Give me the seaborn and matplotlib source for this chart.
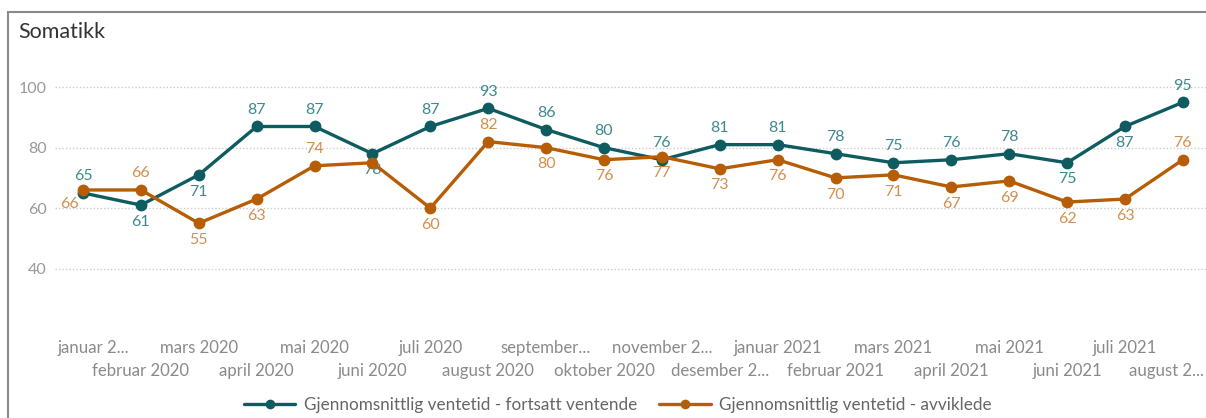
import matplotlib
matplotlib.use("Agg")
import matplotlib.pyplot as plt
import matplotlib.transforms as mtransforms
import seaborn as sns
import pandas as pd
from matplotlib.lines import Line2D
from matplotlib.patches import Rectangle

months = ["januar 2...", "februar 2020", "mars 2020", "april 2020", "mai 2020",
          "juni 2020", "juli 2020", "august 2020", "september...", "oktober 2020",
          "november 2...", "desember 2...", "januar 2021", "februar 2021", "mars 2021",
          "april 2021", "mai 2021", "juni 2021", "juli 2021", "august 2..."]
ventende = [65, 61, 71, 87, 87, 78, 87, 93, 86, 80, 76, 81, 81, 78, 75, 76, 78, 75, 87, 95]
avviklede = [66, 66, 55, 63, 74, 75, 60, 82, 80, 76, 77, 73, 76, 70, 71, 67, 69, 62, 63, 76]
series_names = ["Gjennomsnittlig ventetid - fortsatt ventende",
                "Gjennomsnittlig ventetid - avviklede"]
yticks = [40, 60, 80, 100]

# label placement (style): 1 = above, -1 = below, 0 = hidden, 'L' = below-left
pos_v = [1, -1, -1, 1, 1, -1, 1, 1, 1, 1, 1, 1, 1, 1, 1, 1, 1, -1, -1, 1]
pos_a = ['L', 1, -1, -1, 1, 0, -1, 1, -1, -1, -1, -1, -1, -1, -1, -1, -1, -1, -1, 1]

line_colors = ["#0f5c60", "#b65d05"]
label_colors = ["#3f8a8e", "#d48f4e"]

sns.set_theme(style="white")
plt.rcParams["font.family"] = ["Lato", "DejaVu Sans"]

df = pd.DataFrame({
    "idx": list(range(len(months))) * 2,
    "val": ventende + avviklede,
    "serie": [series_names[0]] * len(months) + [series_names[1]] * len(months),
})

fig = plt.figure(figsize=(12.06, 4.18), dpi=100)
W, H = 1206, 418
ax_left, ax_right, ax_top, ax_bot = 55, 1206, 60, 329
ax = fig.add_axes([ax_left / W, (H - ax_bot) / H, (ax_right - ax_left) / W, (ax_bot - ax_top) / H])

sns.lineplot(data=df, x="idx", y="val", hue="serie", palette=line_colors, ax=ax,
             marker="o", markersize=8.5, markeredgewidth=0, linewidth=2.4,
             legend=False, zorder=3)

ax.set_xlim(-0.484, 19.4)
ax.set_ylim(20, 109)
for s in ax.spines.values():
    s.set_visible(False)
ax.set_yticks(yticks)
ax.set_yticklabels([str(t) for t in yticks], color="#999999", fontsize=11.5)
ax.tick_params(axis="y", length=0, pad=6)
for t in yticks:
    ax.axhline(t, color="#cccccc", lw=1.0, ls=(0, (1, 1.5)), zorder=0)

ax.set_xticks(range(len(months)))
ax.set_xticklabels(months, color="#8a8a8a", fontsize=12.1)
ax.tick_params(axis="x", length=0, pad=8)
ax.set_xlabel("")
ax.set_ylabel("")

ticks = ax.xaxis.get_major_ticks()
for i, tk in enumerate(ticks):
    if i % 2 == 1:
        tk.set_pad(8 + 16.5)
shifts = {0: 10, len(months) - 1: -16}
for i, dx in shifts.items():
    lab = ticks[i].label1
    lab.set_transform(lab.get_transform() + mtransforms.ScaledTranslation(dx / 100, 0, fig.dpi_scale_trans))

def add_labels(vals, pos, col):
    for i, (v, p) in enumerate(zip(vals, pos)):
        if p == 0:
            continue
        if p == 'L':
            off = (-10, -10)
        else:
            off = (0, 12 * p)
        ax.annotate(str(v), (i, v), xytext=off, textcoords="offset points",
                    ha="center", va="center", color=col, fontsize=11.5, zorder=2)

add_labels(ventende, pos_v, label_colors[0])
add_labels(avviklede, pos_a, label_colors[1])

fig.text(18 / W, 1 - 32 / H, "Somatikk", fontsize=15.5, color="#333333", va="center", ha="left")

fig.patches.append(Rectangle((7.5 / W, -0.05), 1.1, 1 - 12 / H + 0.05, transform=fig.transFigure,
                             fill=False, edgecolor="#8a8a8a", lw=1.5))

handles = [Line2D([0], [0], color=c, lw=2.4, marker="o", markersize=7, markeredgewidth=0)
           for c in line_colors]
fig.legend(handles, series_names, loc="center", bbox_to_anchor=(618 / W, 1 - 405 / H),
           ncol=2, frameon=False, fontsize=12.3, labelcolor="#666666",
           handlelength=3.0, columnspacing=1.3, handletextpad=0.5)

fig.savefig("out.png", dpi=100)
